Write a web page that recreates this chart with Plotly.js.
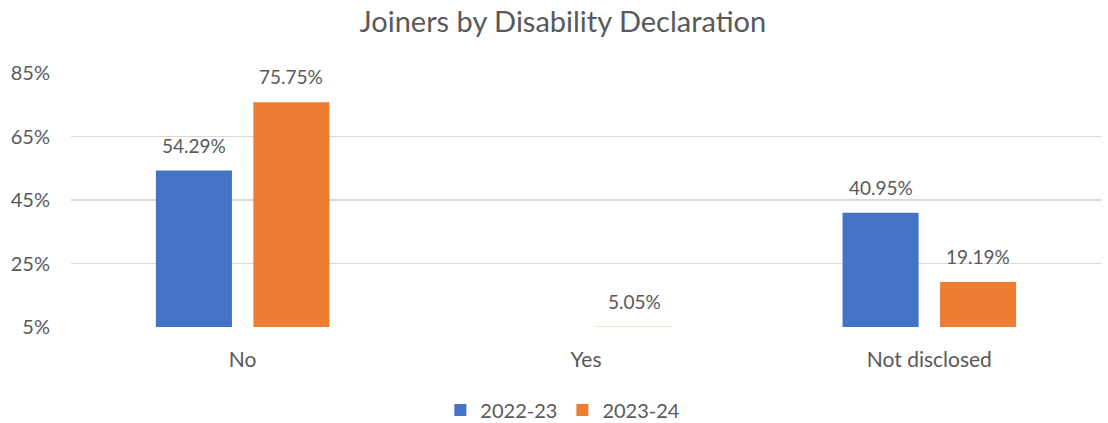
<!DOCTYPE html>
<html>
<head>
<meta charset="utf-8">
<script src="https://cdn.plot.ly/plotly-3.0.1.min.js"></script>
<style>html,body{margin:0;padding:0;background:#fff;}#chart{width:1108px;height:423px;}</style>
</head>
<body>
<div id="chart"></div>
<script>
var categories = ["No", "Yes", "Not disclosed"];
var seriesNames = ["2022-23", "2023-24"];
var values2022 = [54.29, 4.76, 40.95];
var values2023 = [75.75, 5.05, 19.19];
var yTicks = [5, 25, 45, 65, 85];

var colors = ["#4472C4", "#ED7D31"];
var textColor = "#595959";
var font = "Lato, 'Open Sans', sans-serif";
var yMin = 5, yMax = 85;

var traces = [values2022, values2023].map(function (vals, i) {
  return {
    type: "bar",
    name: seriesNames[i],
    x: categories,
    y: vals,
    marker: {color: colors[i]},
    hoverinfo: "x+y"
  };
});

// data labels as annotations above each visible bar
var slotPx = 97.5;
var annotations = [];
[values2022, values2023].forEach(function (vals, i) {
  vals.forEach(function (v, j) {
    if (v < yMin) return;
    annotations.push({
      x: categories[j], y: v, xref: "x", yref: "y",
      text: v.toFixed(2) + "%",
      showarrow: false,
      xshift: (i === 0 ? -1 : 1) * slotPx / 2,
      yshift: 12,
      yanchor: "bottom",
      font: {family: font, size: 19, color: textColor}
    });
  });
});

var layout = {
  width: 1108, height: 423,
  margin: {l: 71, r: 7, t: 73, b: 96},
  paper_bgcolor: "#fff", plot_bgcolor: "#fff",
  font: {family: font, color: textColor, size: 18},
  title: {text: "Joiners by Disability Declaration", x: 0.508, xanchor: "center", xref: "container", y: 0.948, yanchor: "middle", yref: "container",
          font: {family: font, size: 29, color: textColor}},
  barmode: "group",
  bargap: 0.432,
  bargroupgap: 0.22,
  xaxis: {type: "category", showgrid: false, zeroline: false, showline: false, ticks: "", automargin: false,
          ticklabelstandoff: 18, tickfont: {family: font, size: 21, color: textColor}},
  yaxis: {range: [yMin, yMax], tickvals: yTicks, ticktext: yTicks.map(function (t) { return t + "%"; }),
          showgrid: true, gridcolor: "#D9D9D9", gridwidth: 1.3, zeroline: false, showline: false, ticks: "", automargin: false,
          ticklabelstandoff: 20, tickfont: {family: font, size: 20, color: textColor}},
  legend: {orientation: "h", x: 0.508, xanchor: "center", xref: "container", y: 0.031, yanchor: "middle", yref: "container",
           font: {family: font, size: 20, color: textColor}, itemwidth: 30},
  annotations: annotations,
  showlegend: true
};

Plotly.newPlot("chart", traces, layout, {displayModeBar: false, staticPlot: true});
</script>
</body>
</html>
